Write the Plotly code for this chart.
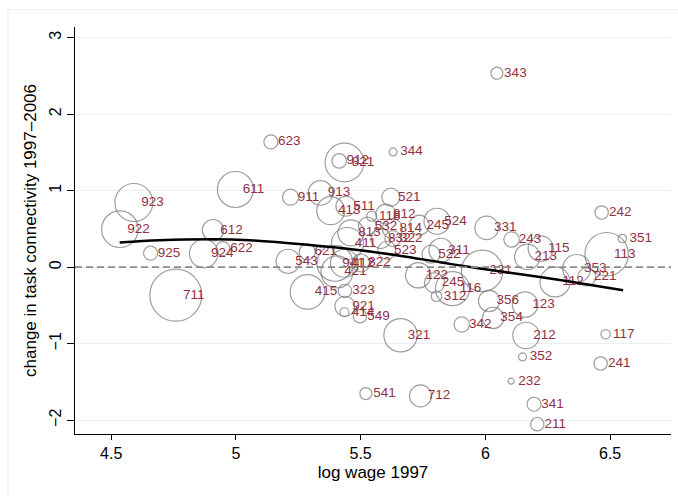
import plotly.graph_objects as go

# occupation codes (labels)
labels = ["343", "623", "912", "821", "344", "611", "911", "913", "923", "922",
          "612", "925", "924", "622", "711", "521", "413", "511", "118", "812",
          "532", "813", "814", "245", "524", "832", "322", "411", "523", "621",
          "543", "941", "412", "822", "421", "415", "323", "921", "414", "549",
          "321", "541", "712", "122", "245", "312", "116", "342", "522", "311",
          "242", "331", "243", "115", "213", "351", "113", "231", "353", "112",
          "221", "356", "123", "354", "212", "117", "352", "241", "232", "341",
          "211"]

log_wage_1997 = [6.046, 5.140, 5.414, 5.435, 5.630, 4.998, 5.219, 5.339, 4.591, 4.535,
                 4.908, 4.658, 4.871, 4.948, 4.759, 5.621, 5.380, 5.441, 5.544, 5.601,
                 5.527, 5.461, 5.627, 5.735, 5.806, 5.581, 5.629, 5.447, 5.605, 5.286,
                 5.209, 5.397, 5.435, 5.501, 5.405, 5.287, 5.437, 5.437, 5.435, 5.497,
                 5.660, 5.521, 5.740, 5.731, 5.796, 5.804, 5.868, 5.905, 5.782, 5.822,
                 6.466, 6.005, 6.105, 6.222, 6.168, 6.549, 6.486, 5.987, 6.366, 6.279,
                 6.406, 6.015, 6.159, 6.031, 6.163, 6.482, 6.149, 6.462, 6.103, 6.195,
                 6.208]

change_connectivity = [2.536, 1.638, 1.390, 1.369, 1.507, 1.016, 0.915, 0.971, 0.846, 0.497,
                       0.484, 0.183, 0.179, 0.244, -0.366, 0.915, 0.739, 0.797, 0.667, 0.693,
                       0.536, 0.448, 0.506, 0.549, 0.601, 0.375, 0.375, 0.310, 0.222, 0.200,
                       0.078, 0.052, 0.052, 0.056, -0.061, -0.323, -0.310, -0.510, -0.588, -0.641,
                       -0.889, -1.651, -1.682, -0.105, -0.203, -0.379, -0.281, -0.749, 0.170, 0.222,
                       0.715, 0.514, 0.362, 0.244, 0.135, 0.375, 0.170, -0.048, -0.017, -0.192,
                       -0.127, -0.441, -0.488, -0.663, -0.893, -0.876, -1.173, -1.259, -1.490, -1.791,
                       -2.052]

# employment weights (marker area proportional)
weight = [36, 49, 53, 372, 16, 324, 64, 151, 361, 335,
          114, 49, 204, 49, 676, 81, 196, 100, 25, 100,
          81, 169, 100, 100, 169, 100, 64, 256, 81, 64,
          144, 324, 196, 81, 256, 299, 45, 100, 20, 45,
          279, 36, 121, 161, 100, 28, 289, 59, 81, 144,
          45, 137, 59, 161, 161, 18, 471, 428, 196, 225,
          81, 114, 161, 114, 177, 22, 16, 45, 9, 49,
          45]

# lowess fit
lowess_x = [4.534, 4.695, 4.907, 5.056, 5.276, 5.497, 5.657, 5.818, 5.978, 6.219, 6.379, 6.552]
lowess_y = [0.323, 0.353, 0.366, 0.353, 0.297, 0.222, 0.150, 0.065, -0.017, -0.127, -0.209, -0.301]

FONT = "Liberation Sans, Arial, sans-serif"

fig = go.Figure()

fig.add_trace(go.Scatter(
    x=log_wage_1997, y=change_connectivity, mode="markers",
    marker=dict(size=weight, sizemode="area", sizeref=0.5,
                color="rgba(0,0,0,0)", line=dict(color="#767676", width=1.2)),
    hoverinfo="skip", showlegend=False))

fig.add_trace(go.Scatter(
    x=log_wage_1997, y=change_connectivity, mode="markers+text",
    text=labels, textposition="middle right",
    textfont=dict(family=FONT, size=13.5, color="#93303f"),
    marker=dict(size=10, color="rgba(0,0,0,0)"),
    hoverinfo="skip", showlegend=False))

fig.add_trace(go.Scatter(
    x=lowess_x, y=lowess_y, mode="lines",
    line=dict(color="black", width=2.4, shape="spline"),
    hoverinfo="skip", showlegend=False))

fig.update_layout(
    width=678, height=496,
    margin=dict(l=75, r=7, t=27, b=62, autoexpand=False),
    paper_bgcolor="white", plot_bgcolor="white",
    font=dict(family=FONT, color="black"),
    shapes=[
        dict(type="rect", xref="paper", yref="paper", x0=-0.1125, x1=1.2,
             y0=-0.3, y1=1.0427, line=dict(color="#e6edef", width=1), layer="below"),
        dict(type="line", xref="paper", yref="y", x0=0, x1=1, y0=0, y1=0,
             line=dict(color="#8a8a8a", width=1.7, dash="7px,4px"), layer="above"),
    ],
    xaxis=dict(range=[4.355, 6.744], tickvals=[4.5, 5, 5.5, 6, 6.5],
               ticktext=["4.5", "5", "5.5", "6", "6.5"],
               ticks="outside", ticklen=5, tickcolor="black",
               showline=True, linecolor="black", linewidth=1,
               showgrid=False, zeroline=False,
               tickfont=dict(size=16),
               title=dict(text="log wage 1997", font=dict(size=17), standoff=4)),
    yaxis=dict(range=[-2.18, 3.14], tickvals=[-2, -1, 0, 1, 2, 3],
               ticks="outside", ticklen=7, tickcolor="black",
               showline=True, linecolor="black", linewidth=1,
               showgrid=True, gridcolor="#e8f0f2", gridwidth=1,
               zeroline=False, tickangle=-90,
               tickfont=dict(size=16),
               title=dict(text="change in task connectivity 1997\u20132006",
                          font=dict(size=17), standoff=5)),
)

fig.write_html("out.html")
